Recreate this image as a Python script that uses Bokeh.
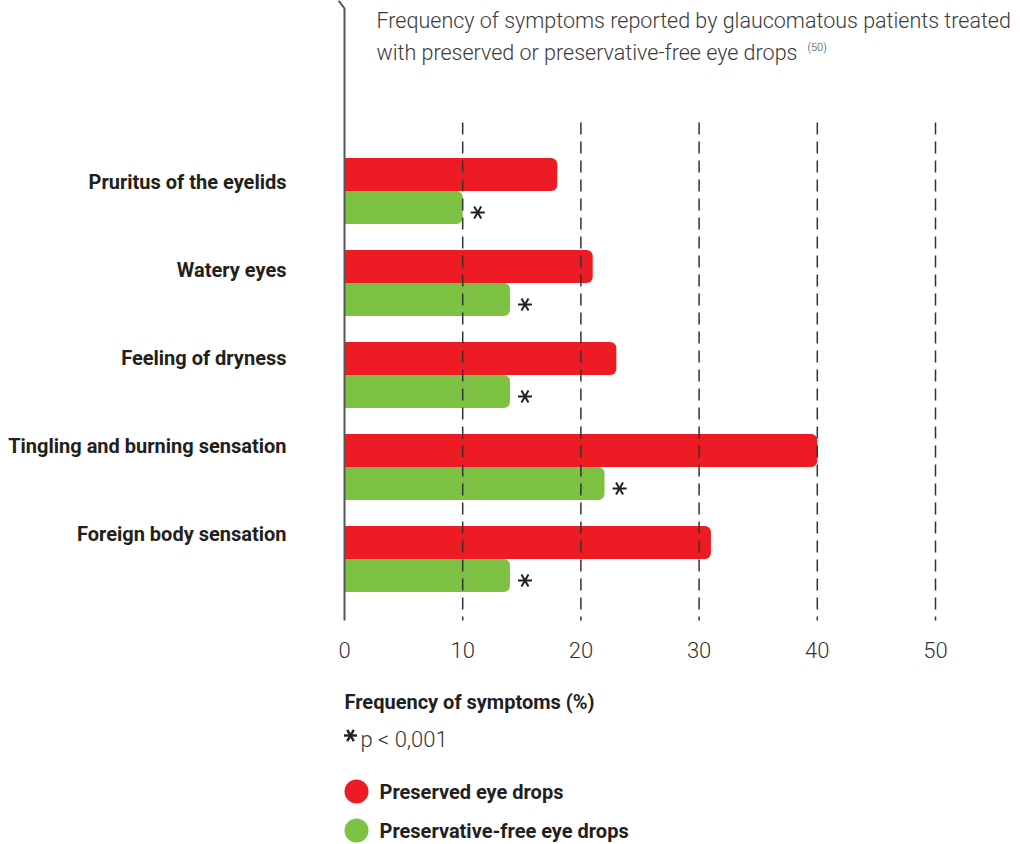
import math
from bokeh.plotting import figure
from bokeh.models import Range1d, ColumnDataSource
from bokeh.core.properties import value
from bokeh.transform import dodge
from bokeh.embed import file_html
from bokeh.resources import INLINE

# ---------------- data ----------------
symptoms = ["Pruritus of the eyelids", "Watery eyes", "Feeling of dryness",
            "Tingling and burning sensation", "Foreign body sensation"]
preserved = [18, 21, 23, 40, 31]
preservative_free = [10, 14, 14, 22, 14]
x_ticks = [0, 10, 20, 30, 40, 50]
tick_labels = ["0", "10", "20", "30", "40", "50"]
title_lines = ["Frequency of symptoms reported by glaucomatous patients treated",
               "with preserved or preservative-free eye drops"]
title_ref = "(50)"
x_label = "Frequency of symptoms (%)"
p_note = "p < 0,001"
series_names = ["Preserved eye drops", "Preservative-free eye drops"]
series_colors = ["#ED1C24", "#7DC242"]

# ---------------- layout ----------------
W, H = 1020, 844
PX = 11.82          # pixels per percentage point
X0 = 344            # pixel position of value 0
LIGHT = value("Roboto Light")
BOLD = value("Roboto")
INK = "#231F20"
GREY = "#3a3a3a"

p = figure(width=W, height=H, output_backend="svg", toolbar_location=None,
           x_range=Range1d(-X0 / PX, (W - X0) / PX),
           y_range=Range1d(H, 0),   # y data == pixel row
           x_axis_type=None, y_axis_type=None, min_border=0,
           outline_line_color=None, background_fill_color="white")
p.grid.visible = False

n = len(symptoms)
bar_h = 33
pitch = 92
red_c = [174 + pitch * i for i in range(n)]
green_c = [207 + pitch * i for i in range(n)]
label_y = [181 + 88 * i for i in range(n)]

src = ColumnDataSource(dict(sym=symptoms, pres=preserved, pf=preservative_free,
                            yr=red_c, yg=green_c, yl=label_y,
                            ya=[g + 5 for g in green_c]))

p.hbar(y="yr", left=0, right="pres", height=bar_h, source=src,
       fill_color=series_colors[0], line_color=None, border_radius=(0, 6, 6, 0))
p.hbar(y="yg", left=0, right="pf", height=bar_h, source=src,
       fill_color=series_colors[1], line_color=None, border_radius=(0, 6, 6, 0))

# dashed grid lines
grid_x = x_ticks[1:]
p.segment(x0=grid_x, y0=[122] * len(grid_x), x1=grid_x, y1=[620] * len(grid_x),
          line_color="#333333", line_width=1.5, line_dash="12 7")
# vertical axis line with small hook at the top
p.line(x=[-6 / PX, 0, 0], y=[0, 8, 620], line_color="#555555", line_width=2)

# significance asterisks (6-armed)
for a in (0, math.pi / 3, 2 * math.pi / 3):
    p.scatter(x=dodge("pf", 15 / PX), y="ya", source=src, marker="dash", size=14,
              angle=a, line_color=INK, line_width=2)

# category labels
p.text(x=0, y="yl", text="sym", source=src, x_offset=-58, text_align="right",
       text_baseline="middle", text_font=BOLD, text_font_style="bold",
       text_font_size="20px", text_color=INK)

# tick labels
p.text(x=x_ticks, y=[649] * len(x_ticks), text=tick_labels, text_align="center",
       text_baseline="middle", text_font=LIGHT, text_font_size="22px", text_color="#333333")

# title
p.text(x=[0, 0], y=[20, 52], text=title_lines, x_offset=32, text_align="left",
       text_baseline="middle", text_font=LIGHT, text_font_size="21.5px", text_color=GREY)
p.text(x=[0], y=[47], text=[title_ref], x_offset=463, text_align="left",
       text_baseline="middle", text_font=LIGHT, text_font_size="11px", text_color=GREY)

# x label and note
p.text(x=[0], y=[701], text=[x_label], text_align="left", text_baseline="middle",
       text_font=BOLD, text_font_style="bold", text_font_size="20px", text_color=INK)
for a in (0, math.pi / 3, 2 * math.pi / 3):
    p.scatter(x=[6 / PX], y=[735], marker="dash", size=13, angle=a,
              line_color=INK, line_width=2.4)
p.text(x=[0], y=[739], text=[p_note], x_offset=16, text_align="left",
       text_baseline="middle", text_font=LIGHT, text_font_size="22px", text_color="#333333")

# legend
leg_y = [791, 830]
p.scatter(x=[12 / PX] * 2, y=leg_y, marker="circle", size=24,
          fill_color=series_colors, line_color=None)
p.text(x=[0, 0], y=leg_y, text=series_names, x_offset=35, text_align="left",
       text_baseline="middle", text_font=BOLD, text_font_style="bold",
       text_font_size="20px", text_color=INK)

open("out.html", "w").write(file_html(p, INLINE))
